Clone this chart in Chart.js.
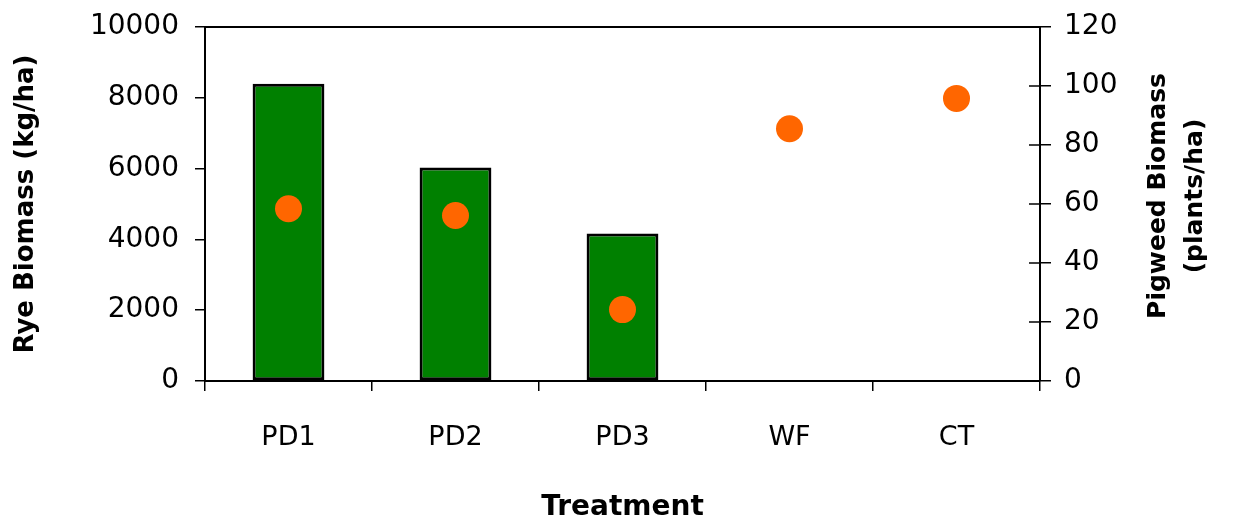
<!DOCTYPE html>
<html>
<head>
<meta charset="utf-8">
<script src="https://cdn.jsdelivr.net/npm/chart.js@4/dist/chart.umd.min.js"></script>
<style>
  html, body { margin: 0; padding: 0; background: #fff; }
  #wrap { width: 1235px; height: 525px; }
</style>
</head>
<body>
<div id="wrap"><canvas id="biomassChart"></canvas></div>
<script>
const treatments = ['PD1', 'PD2', 'PD3', 'WF', 'CT']
const ryeBiomass = [8400, 6030, 4165, null, null]
const pigweedBiomass = [58.4, 56.1, 24.2, 85.5, 95.8]
const ryeTicks = [0, 2000, 4000, 6000, 8000, 10000]
const pigweedTicks = [0, 20, 40, 60, 80, 100, 120]

const FONT = 'DejaVu Sans'

// frame on top, inner half of right ticks, right title read bottom-to-top
const framePlugin = {
    id: 'frame',
    afterDraw(chart) {
        const {ctx, chartArea} = chart
        const y1 = chart.scales.y1
        ctx.save()
        ctx.strokeStyle = '#000'
        ctx.lineWidth = 2
        ctx.beginPath()
        ctx.moveTo(chartArea.left, chartArea.top)
        ctx.lineTo(chartArea.right, chartArea.top)
        ctx.stroke()

        ctx.lineWidth = 1.5
        for (const v of pigweedTicks) {
            const py = y1.getPixelForValue(v)
            ctx.beginPath()
            ctx.moveTo(chartArea.right - 11, py)
            ctx.lineTo(chartArea.right, py)
            ctx.stroke()
        }

        const midY = (chartArea.top + chartArea.bottom) / 2 - 8
        ctx.fillStyle = '#000'
        ctx.font = `bold 25px "${FONT}"`
        ctx.textAlign = 'center'
        ctx.textBaseline = 'middle'
        ctx.translate(y1.right - 77, midY)
        ctx.rotate(-Math.PI / 2)
        ctx.fillText('Pigweed Biomass', 0, 0)
        ctx.fillText('(plants/ha)', 0, 37)
        ctx.restore()
    }
}

const fitY = (width) => (scale) => {
    scale.width = width
    scale.paddingTop = 0
    scale.paddingBottom = 0
}

const createChart = () => {
    const ctx = document.getElementById('biomassChart').getContext('2d')
    new Chart(ctx, {
        data: {
            labels: treatments,
            datasets: [
                {
                    type: 'scatter',
                    label: 'Pigweed',
                    data: pigweedBiomass,
                    yAxisID: 'y1',
                    showLine: false,
                    pointRadius: 13.5,
                    pointHoverRadius: 13.5,
                    backgroundColor: '#FF6600',
                    borderWidth: 0,
                    order: 0,
                },
                {
                    type: 'bar',
                    label: 'Rye',
                    data: ryeBiomass,
                    yAxisID: 'y',
                    backgroundColor: '#008000',
                    borderColor: '#000',
                    borderWidth: 3,
                    borderSkipped: false,
                    categoryPercentage: 1,
                    barPercentage: 0.43,
                    order: 1,
                },
            ]
        },
        options: {
            responsive: true,
            maintainAspectRatio: false,
            animation: false,
            layout: { padding: { top: 27, left: 0, right: 0, bottom: 0 } },
            plugins: {
                legend: { display: false },
                tooltip: { enabled: false },
            },
            scales: {
                x: {
                    type: 'category',
                    offset: true,
                    grid: {
                        offset: true,
                        drawOnChartArea: false,
                        drawTicks: true,
                        tickLength: 10,
                        color: '#000',
                        lineWidth: 1.5,
                    },
                    border: { color: '#000', width: 2 },
                    ticks: {
                        color: '#000',
                        font: { family: FONT, size: 27 },
                        padding: 31,
                        maxRotation: 0,
                    },
                    title: {
                        display: true,
                        text: 'Treatment',
                        color: '#000',
                        font: { family: FONT, size: 28, weight: 'bold' },
                        padding: { top: 0, bottom: 0 },
                    },
                    afterFit: (scale) => { scale.height = 144 },
                },
                y: {
                    position: 'left',
                    min: 0,
                    max: 10000,
                    afterBuildTicks: (scale) => {
                        scale.ticks = ryeTicks.map(v => ({value: v}))
                    },
                    grid: {
                        drawOnChartArea: false,
                        drawTicks: true,
                        tickLength: 10,
                        color: '#000',
                        lineWidth: 1.5,
                    },
                    border: { color: '#000', width: 2 },
                    ticks: {
                        color: '#000',
                        font: { family: FONT, size: 28 },
                        padding: 16,
                        callback: (v) => String(v),
                    },
                    title: {
                        display: true,
                        text: 'Rye Biomass (kg/ha)',
                        color: '#000',
                        font: { family: FONT, size: 26, weight: 'bold' },
                        padding: { top: 11, bottom: 0 },
                    },
                    afterFit: fitY(205),
                },
                y1: {
                    position: 'right',
                    min: 0,
                    max: 120,
                    afterBuildTicks: (scale) => {
                        scale.ticks = pigweedTicks.map(v => ({value: v}))
                    },
                    grid: {
                        drawOnChartArea: false,
                        drawTicks: true,
                        tickLength: 11,
                        color: '#000',
                        lineWidth: 1.5,
                    },
                    border: { color: '#000', width: 2 },
                    ticks: {
                        color: '#000',
                        font: { family: FONT, size: 28 },
                        padding: 13,
                    },
                    afterFit: fitY(195),
                },
            }
        },
        plugins: [framePlugin]
    })
}

document.addEventListener('DOMContentLoaded', () => {
    createChart()
})
</script>
</body>
</html>
